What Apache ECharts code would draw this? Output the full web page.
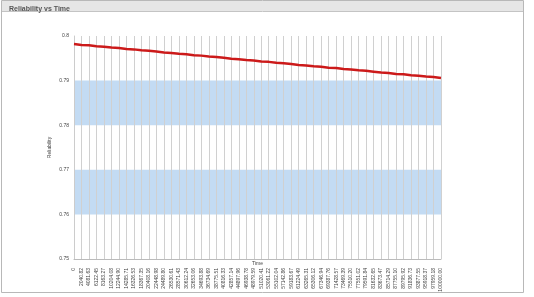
<!DOCTYPE html>
<html>
<head>
<meta charset="utf-8">
<script src="https://cdn.jsdelivr.net/npm/echarts@6/dist/echarts.min.js"></script>
<style>
  html, body { margin: 0; padding: 0; background: #ffffff; }
  #chart { width: 534px; height: 297px; }
</style>
</head>
<body>
<div id="chart"></div>
<script>
const times = [
  "0", "2040.82", "4081.63", "6122.45", "8163.27", "10204.08", "12244.90", "14285.71", "16326.53", "18367.35",
  "20408.16", "22448.98", "24489.80", "26530.61", "28571.43", "30612.24", "32653.06", "34693.88", "36734.69", "38775.51",
  "40816.33", "42857.14", "44897.96", "46938.78", "48979.59", "51020.41", "53061.22", "55102.04", "57142.86", "59183.67",
  "61224.49", "63265.31", "65306.12", "67346.94", "69387.76", "71428.57", "73469.39", "75510.20", "77551.02", "79591.84",
  "81632.65", "83673.47", "85714.29", "87755.10", "89795.92", "91836.73", "93877.55", "95918.37", "97959.18", "100000.00"
];

const reliability = [
  0.7982, 0.7980, 0.7979, 0.7977, 0.7976, 0.7974, 0.7973, 0.7971, 0.7970, 0.7968,
  0.7967, 0.7965, 0.7963, 0.7962, 0.7960, 0.7959, 0.7957, 0.7956, 0.7954, 0.7953,
  0.7951, 0.7949, 0.7948, 0.7946, 0.7945, 0.7943, 0.7942, 0.7940, 0.7939, 0.7937,
  0.7935, 0.7934, 0.7932, 0.7931, 0.7929, 0.7928, 0.7926, 0.7925, 0.7923, 0.7922,
  0.7920, 0.7918, 0.7917, 0.7915, 0.7914, 0.7912, 0.7911, 0.7909, 0.7908, 0.7906
];

const yLabels = { 0.75: "0.75", 0.76: "0.76", 0.77: "0.77", 0.78: "0.78", 0.79: "0.79", 0.8: "0.8" };

const chart = echarts.init(document.getElementById("chart"));
chart.setOption({
  animation: false,
  backgroundColor: "#ffffff",
  title: {
    text: "Reliability vs Time",
    left: 4,
    top: 1,
    textStyle: { fontSize: 7, fontWeight: "bold", color: "#555555", fontFamily: "Liberation Sans" }
  },
  graphic: [
    {
      type: "rect",
      z: -10,
      shape: { x: 1.5, y: 0.5, width: 522, height: 292 },
      style: { fill: "#ffffff", stroke: "#b8b8b8", lineWidth: 1 }
    },
    {
      type: "rect",
      z: -9,
      shape: { x: 2, y: 1, width: 521, height: 10 },
      style: { fill: "#e6e6e6" }
    },
    {
      type: "line",
      z: -8,
      shape: { x1: 2, y1: 11.5, x2: 523, y2: 11.5 },
      style: { stroke: "#c4c4c4", lineWidth: 1 }
    }
  ],
  grid: { left: 74, right: 93, top: 36, bottom: 38, outerBoundsMode: "none" },
  xAxis: {
    type: "category",
    data: times,
    boundaryGap: false,
    name: "Time",
    nameLocation: "middle",
    nameGap: 2,
    nameMoveOverlap: false,
    nameTextStyle: { fontSize: 5, color: "#444444", verticalAlign: "top" },
    axisLine: { lineStyle: { color: "#bbbbbb" } },
    axisTick: { show: false },
    axisLabel: { interval: 0, rotate: 90, fontSize: 5, color: "#444444", margin: 9 },
    splitLine: { show: true, interval: 0, lineStyle: { color: "#d0d0d0", width: 1 } }
  },
  yAxis: {
    type: "value",
    min: 0.75,
    max: 0.8,
    interval: 0.01,
    name: "Reliability",
    nameLocation: "middle",
    nameGap: 22,
    nameMoveOverlap: false,
    nameTextStyle: { fontSize: 5, color: "#444444" },
    axisLine: { show: true, lineStyle: { color: "#cccccc" } },
    axisTick: { show: false },
    axisLabel: { fontSize: 5, color: "#444444", margin: 5, formatter: v => yLabels[Math.round(v * 100) / 100] || "" },
    splitLine: { show: false },
    splitArea: { show: true, areaStyle: { color: ["rgba(255,255,255,0)", "rgba(170,204,238,0.7)"] } }
  },
  series: [
    {
      type: "line",
      data: reliability,
      showSymbol: false,
      lineStyle: { color: "#cc1a1a", width: 2.5 },
      z: 5
    }
  ]
});
</script>
</body>
</html>
